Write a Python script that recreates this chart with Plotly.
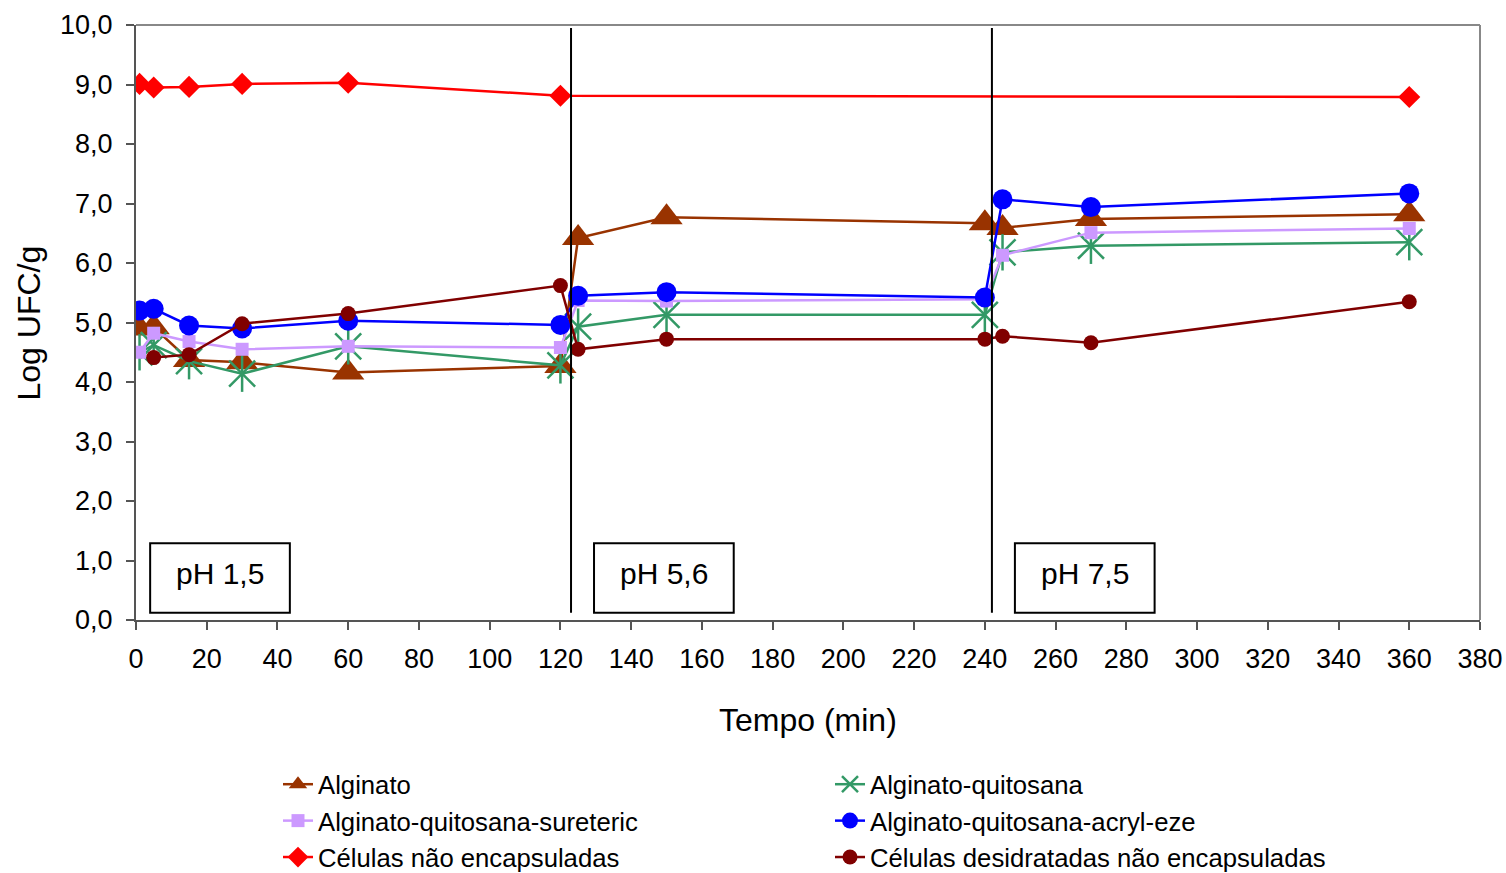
import plotly.graph_objects as go

# ---- data ----
tempo = [1, 5, 15, 30, 60, 120, 125, 150, 240, 245, 270, 360]
alginato = [4.90, 4.92, 4.37, 4.33, 4.16, 4.27, 6.42, 6.77, 6.67, 6.59, 6.74, 6.82]
quitosana = [4.50, 4.62, 4.35, 4.14, 4.60, 4.28, 4.93, 5.13, 5.13, 6.18, 6.29, 6.35]
sureteric = [4.50, 4.82, 4.68, 4.55, 4.60, 4.58, 5.37, 5.36, 5.39, 6.13, 6.51, 6.58]
acryl_eze = [5.20, 5.23, 4.95, 4.90, 5.03, 4.96, 5.45, 5.51, 5.42, 7.07, 6.94, 7.17]

tempo_nao_enc = [1, 5, 15, 30, 60, 120, 360]
nao_encaps = [9.01, 8.95, 8.96, 9.01, 9.03, 8.81, 8.79]

tempo_desid = [5, 15, 30, 60, 120, 125, 150, 240, 245, 270, 360]
desidratadas = [4.41, 4.46, 4.98, 5.15, 5.62, 4.55, 4.72, 4.72, 4.77, 4.66, 5.35]

ph_labels = ["pH 1,5", "pH 5,6", "pH 7,5"]
ph_box_x = [(4, 43.5), (129.5, 169), (248.5, 288)]
ph_box_y = (0.12, 1.29)
divisores = [123, 242]

x_ticks = list(range(0, 381, 20))
y_ticks = list(range(0, 11))

FONT = "Liberation Sans, Arial, sans-serif"

fig = go.Figure()

LW = 2.5
fig.add_trace(go.Scatter(
    x=tempo, y=alginato, name="Alginato", mode="lines+markers",
    line=dict(color="#993300", width=LW),
    marker=dict(symbol="triangle-up", size=28, color="#993300"),
    legend="legend", legendgroup="a"))
fig.add_trace(go.Scatter(
    x=tempo, y=quitosana, name="Alginato-quitosana", mode="lines+markers",
    line=dict(color="#339966", width=LW),
    marker=dict(symbol="x-thin-open", size=26, color="#339966",
                line=dict(color="#339966", width=2.5)),
    legend="legend2", legendgroup="b"))
fig.add_trace(go.Scatter(
    x=tempo, y=quitosana, mode="markers", showlegend=False, hoverinfo="skip",
    marker=dict(symbol="line-ns-open", size=26, color="#339966",
                line=dict(color="#339966", width=2.5))))
fig.add_trace(go.Scatter(
    x=tempo, y=sureteric, name="Alginato-quitosana-sureteric", mode="lines+markers",
    line=dict(color="#CC99FF", width=LW),
    marker=dict(symbol="square", size=13, color="#CC99FF"),
    legend="legend", legendgroup="c"))
fig.add_trace(go.Scatter(
    x=tempo, y=acryl_eze, name="Alginato-quitosana-acryl-eze", mode="lines+markers",
    line=dict(color="#0000FF", width=LW),
    marker=dict(symbol="circle", size=20, color="#0000FF"),
    legend="legend2", legendgroup="d"))
fig.add_trace(go.Scatter(
    x=tempo_nao_enc, y=nao_encaps, name="Células não encapsuladas", mode="lines+markers",
    line=dict(color="#FF0000", width=LW),
    marker=dict(symbol="diamond", size=17, color="#FF0000"),
    legend="legend", legendgroup="e"))
fig.add_trace(go.Scatter(
    x=tempo_desid, y=desidratadas, name="Células desidratadas não encapsuladas",
    mode="lines+markers",
    line=dict(color="#800000", width=LW),
    marker=dict(symbol="circle", size=15, color="#800000"),
    legend="legend2", legendgroup="f"))

shapes = []
for xv in divisores:
    shapes.append(dict(type="line", xref="x", yref="y", x0=xv, x1=xv, y0=0.12, y1=9.95,
                       line=dict(color="black", width=2)))
annotations = []
for lab, (x0, x1) in zip(ph_labels, ph_box_x):
    shapes.append(dict(type="rect", xref="x", yref="y", x0=x0, x1=x1,
                       y0=ph_box_y[0], y1=ph_box_y[1],
                       line=dict(color="black", width=2), fillcolor="white", layer="above"))
    annotations.append(dict(x=(x0 + x1) / 2, y=0.79, xref="x", yref="y", text=lab,
                            showarrow=False, font=dict(size=30, color="black", family=FONT)))
# plot-area border (top and right)
shapes.append(dict(type="line", xref="paper", yref="paper", x0=0, x1=1, y0=1, y1=1,
                   line=dict(color="#888888", width=2)))
shapes.append(dict(type="line", xref="paper", yref="paper", x0=1, x1=1, y0=0, y1=1,
                   line=dict(color="#888888", width=2)))

# axis titles
annotations.append(dict(text="Log UFC/g", xref="paper", yref="paper",
                        x=(28 - 136) / 1344, y=0.5, textangle=-90, showarrow=False,
                        xanchor="center", yanchor="middle",
                        font=dict(size=32, color="black", family=FONT)))
annotations.append(dict(text="Tempo (min)", xref="paper", yref="paper",
                        x=0.5, y=(620 - 720) / 595, showarrow=False,
                        xanchor="center", yanchor="middle",
                        font=dict(size=32, color="black", family=FONT)))

fig.update_layout(
    width=1506, height=873,
    margin=dict(l=136, r=26, t=25, b=253, autoexpand=False),
    paper_bgcolor="white", plot_bgcolor="white",
    separators=",.",
    font=dict(family=FONT, color="black", size=24),
    shapes=shapes, annotations=annotations,
    xaxis=dict(range=[0, 380], tickvals=x_ticks, showgrid=False, zeroline=False,
               showline=True, linecolor="#555555", linewidth=2,
               ticks="outside", ticklen=8, tickcolor="#555555", tickwidth=2,
               tickfont=dict(size=27), ticklabelstandoff=6),
    yaxis=dict(range=[0, 10], tickvals=y_ticks, tickformat=".1f", showgrid=False,
               zeroline=False, showline=True, linecolor="#555555", linewidth=2,
               ticks="outside", ticklen=8, tickcolor="#555555", tickwidth=2,
               tickfont=dict(size=27), ticklabelstandoff=8),
    legend=dict(xref="container", yref="container", x=278 / 1506, y=1 - 761 / 873,
                xanchor="left", yanchor="top", orientation="v",
                font=dict(size=25.7), tracegroupgap=0, bgcolor="rgba(0,0,0,0)"),
    legend2=dict(xref="container", yref="container", x=830 / 1506, y=1 - 761 / 873,
                 xanchor="left", yanchor="top", orientation="v",
                 font=dict(size=25.7), tracegroupgap=0, bgcolor="rgba(0,0,0,0)"),
)

fig.write_html("out.html")
